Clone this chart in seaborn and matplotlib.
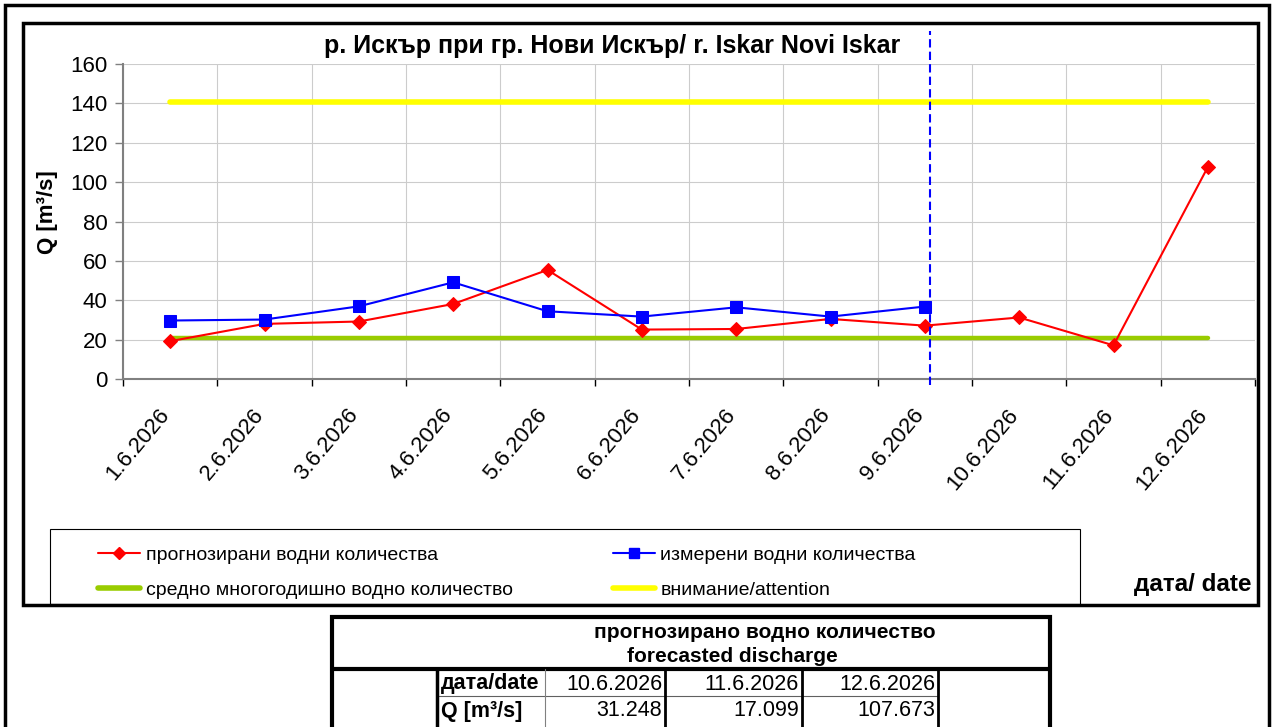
import numpy as np
import pandas as pd
import matplotlib
matplotlib.use("Agg")
import matplotlib.pyplot as plt
import matplotlib.transforms as mtransforms
from matplotlib.lines import Line2D
from matplotlib.patches import Rectangle
import seaborn as sns

# data
dates = ['1.6.2026', '2.6.2026', '3.6.2026', '4.6.2026', '5.6.2026', '6.6.2026',
         '7.6.2026', '8.6.2026', '9.6.2026', '10.6.2026', '11.6.2026', '12.6.2026']
forecast = [19.2, 28.0, 29.2, 38.1, 55.4, 25.1, 25.4, 30.5, 27.1, 31.248, 17.099, 107.673]
measured = [29.7, 30.2, 36.9, 49.1, 34.4, 31.7, 36.4, 31.7, 36.8]
mean_discharge = 21.0
attention_level = 140.6
today_pos = 8.06  # dashed "today" marker, just after 9.6.2026

title = 'р. Искър при гр. Нови Искър/ r. Iskar Novi Iskar'
ylabel = 'Q [m³/s]'
xlabel = 'дата/ date'
legend_labels = ['прогнозирани водни количества', 'средно многогодишно водно количество',
                 'измерени водни количества', 'внимание/attention']
table_title = ['прогнозирано водно количество', 'forecasted discharge']
table_row_labels = ['дата/date', 'Q [m³/s]']
n_fc = 3
table_dates = dates[-n_fc:]
table_values = forecast[-n_fc:]

W, H = 1272, 727
RED, BLUE, GREEN, YELLOW = '#FF0000', '#0000FF', '#99CC00', '#FFFF00'

sns.set_theme(style="whitegrid")
plt.rcParams['font.family'] = ['Liberation Sans', 'DejaVu Sans']
plt.rcParams['text.color'] = 'black'
plt.rcParams['xtick.color'] = 'black'
plt.rcParams['ytick.color'] = 'black'


def fx(x):
    return x / W


def fy(y):
    return 1 - y / H


def px_rect(x0, y0, x1, y1, **kw):
    fig.add_artist(Rectangle((fx(x0), fy(y1)), (x1 - x0) / W, (y1 - y0) / H,
                             transform=fig.transFigure, fill=False, **kw))


def px_line(xs, ys, **kw):
    fig.add_artist(Line2D([fx(x) for x in xs], [fy(y) for y in ys],
                          transform=fig.transFigure, **kw))


fig = plt.figure(figsize=(W / 100, H / 100), dpi=100)
ax = fig.add_axes([fx(123), fy(379), (1255 - 123) / W, (379 - 64) / H])

pos = np.arange(len(dates))
df_fc = pd.DataFrame({'pos': pos, 'Q': forecast})
df_ms = pd.DataFrame({'pos': pos[:len(measured)], 'Q': measured})
df_ref = pd.DataFrame({'pos': pos,
                       'mean': np.full(len(dates), mean_discharge),
                       'att': np.full(len(dates), attention_level)})

sns.lineplot(data=df_ref, x='pos', y='att', color=YELLOW, lw=4, ax=ax)
sns.lineplot(data=df_ref, x='pos', y='mean', color=GREEN, lw=3.2, ax=ax)
sns.lineplot(data=df_fc, x='pos', y='Q', color=RED, lw=1.5, marker='D', markersize=7.5,
             markeredgecolor=RED, ax=ax)
sns.lineplot(data=df_ms, x='pos', y='Q', color=BLUE, lw=1.5, marker='s', markersize=8,
             markeredgecolor=BLUE, ax=ax)

ax.plot([today_pos, today_pos], [-3, 177], color=BLUE, lw=1.5, dashes=(4, 2),
        clip_on=False, zorder=5)

ax.set_xlim(-0.5, len(dates) - 0.5)
ax.set_ylim(0, 160)
ax.set_yticks(np.arange(0, 161, 20))
ax.set_xticks(pos)
ax.set_xticklabels(dates, rotation=50, ha='right', va='baseline', rotation_mode='anchor')
ax.set_xticks(np.arange(-0.5, len(dates), 1), minor=True)
ax.set_xlabel('')
ax.set_ylabel('')
shift = mtransforms.ScaledTranslation(-2 / 100, 0, fig.dpi_scale_trans)
for lab in ax.get_xticklabels():
    lab.set_transform(lab.get_transform() + shift)

ax.grid(False)
ax.grid(True, which='major', axis='y', color='#CCCCCC', lw=0.8)
ax.grid(True, which='minor', axis='x', color='#CCCCCC', lw=0.8)
ax.tick_params(axis='x', which='major', length=0, pad=26, labelsize=16)
ax.tick_params(axis='x', which='minor', bottom=True, length=5, width=1, color='black')
ax.tick_params(axis='y', left=True, length=6, width=1, color='#808080', pad=5, labelsize=16)
for s in ['top', 'right']:
    ax.spines[s].set_visible(False)
for s in ['left', 'bottom']:
    ax.spines[s].set_color('#808080')
    ax.spines[s].set_linewidth(1.5)

fig.text(fx(612), fy(46), title, ha='center', va='center', fontsize=18, fontweight='bold')
fig.text(fx(47), fy(212), ylabel, ha='center', va='center', rotation=90,
         fontsize=16, fontweight='bold')
fig.text(fx(1252), fy(585), xlabel, ha='right', va='center', fontsize=17.5, fontweight='bold')

# legend
handles = [Line2D([], [], color=RED, lw=1.5, marker='D', markersize=6.5),
           Line2D([], [], color=GREEN, lw=4),
           Line2D([], [], color=BLUE, lw=1.5, marker='s', markersize=7.5),
           Line2D([], [], color=YELLOW, lw=4)]
fig.legend(handles, legend_labels, ncol=2, loc='upper left',
           bbox_to_anchor=(fx(98), fy(546)), frameon=False, fontsize=14,
           handlelength=2.15, handletextpad=0.3, columnspacing=5.15,
           labelspacing=0.9, borderpad=0, borderaxespad=0)

# frames
px_rect(5, 5, 1269, 740, lw=2.5, edgecolor='black')
px_rect(23, 23, 1258, 605, lw=2.5, edgecolor='black')
px_rect(50, 529, 1080, 604, lw=0.8, edgecolor='black')

# forecast table
px_rect(332, 617, 1050, 740, lw=3, edgecolor='black')
px_line([332, 1050], [669, 669], lw=3, color='black')
px_line([437, 938], [696, 696], lw=0.8, color='#606060')
px_line([437, 437], [669, 740], lw=2.5, color='black')
px_line([545, 545], [669, 740], lw=0.8, color='#808080')
col_right = [665, 802, 938]
for xr in col_right:
    px_line([xr, xr], [669, 740], lw=2, color='black')

fig.text(fx(765), fy(632), table_title[0], ha='center', va='center', fontsize=15,
         fontweight='bold')
fig.text(fx(732), fy(656), table_title[1], ha='center', va='center', fontsize=15,
         fontweight='bold')
row_y = [684, 711]
for lab, yy in zip(table_row_labels, row_y):
    fig.text(fx(441), fy(yy), lab, ha='left', va='center', fontsize=15.5, fontweight='bold')
for xr, d, v in zip(col_right, table_dates, table_values):
    fig.text(fx(xr - 3), fy(row_y[0]), d, ha='right', va='center', fontsize=15.5)
    fig.text(fx(xr - 3), fy(row_y[1]), f'{v:.3f}', ha='right', va='center', fontsize=15.5)

fig.savefig('out.png', dpi=100)
